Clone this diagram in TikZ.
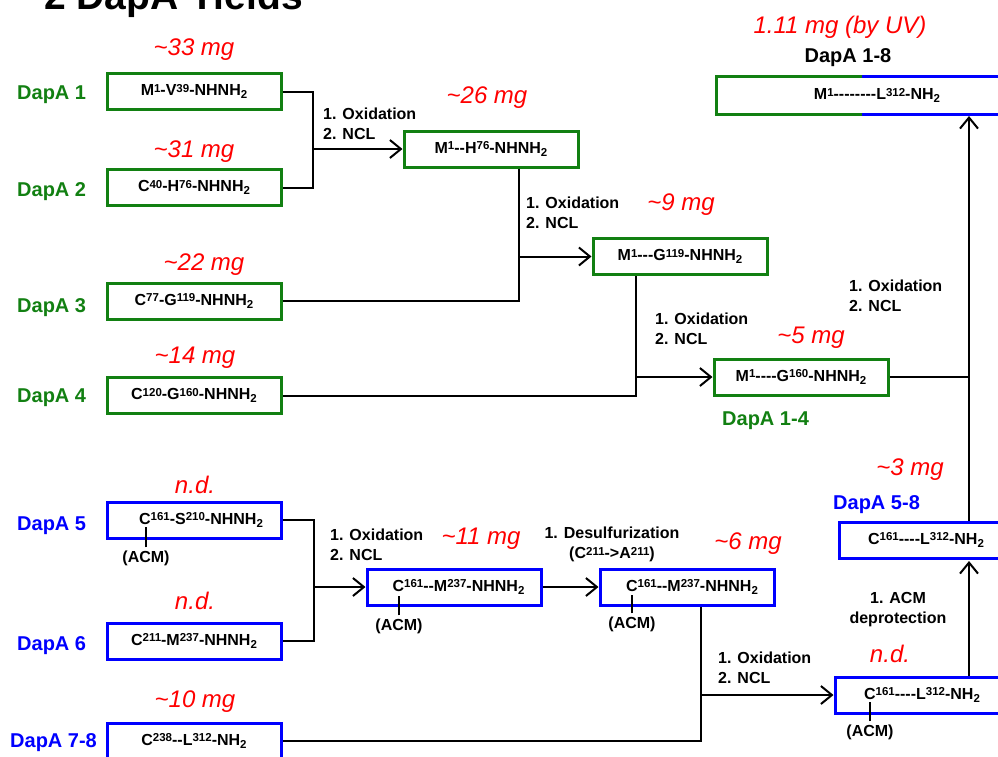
\documentclass[tikz,border=0pt]{standalone}
\usepackage{fontspec}
\setmainfont{Liberation Sans}
\usetikzlibrary{arrows.meta}
\definecolor{dg}{RGB}{18,128,18}
\definecolor{bl}{RGB}{0,0,255}
\newcommand\hh{\hbox{-}}
\newcommand\sps[1]{\raisebox{3.6pt}{\fontsize{11.5}{10}\selectfont #1}}
\newcommand\sbs[1]{\raisebox{-2.7pt}{\fontsize{11.5}{10}\selectfont #1}}
\begin{document}
\begin{tikzpicture}[x=1pt,y=-1pt,
  box/.style={line width=3pt, minimum width=174pt, minimum height=36pt, inner sep=0pt, font=\bfseries\fontsize{16}{18}\selectfont},
  gbox/.style={box, draw=dg},
  bbox/.style={box, draw=bl},
  lab/.style={font=\bfseries\fontsize{20}{24}\selectfont, anchor=base west, inner sep=0pt},
  yld/.style={text=red, font=\itshape\fontsize{24}{28}\selectfont, anchor=base, inner sep=0pt},
  stp/.style={font=\bfseries\fontsize{16}{20}\selectfont, align=left, anchor=north west, inner sep=0pt},
  conn/.style={line width=2pt},
  arr/.style={conn, -{Straight Barb[length=11pt,width=18pt]}},
  acm/.style={font=\bfseries\fontsize{16}{18}\selectfont, inner sep=0pt},
  tick/.style={line width=2pt}]
\clip (0,0) rectangle (998,756);
% title (cut off at top)
\node[font=\bfseries\fontsize{39}{44}\selectfont, anchor=base west, inner sep=0pt] (title) at (44,9) {2 DapA Yields};
% ---------- DapA 1-4 ----------
\node[lab, text=dg] (l1) at (17,99) {DapA 1};
\node[lab, text=dg] (l2) at (17,196) {DapA 2};
\node[lab, text=dg] (l3) at (17,312) {DapA 3};
\node[lab, text=dg] (l4) at (17,402) {DapA 4};
\node[gbox] (d1) at (194,91.5) {M\sps{1}-V\sps{39}-NHNH\sbs{2}};
\node[gbox] (d2) at (194,187.5) {C\sps{40}-H\sps{76}-NHNH\sbs{2}};
\node[gbox] (d3) at (194,301) {C\sps{77}-G\sps{119}-NHNH\sbs{2}};
\node[gbox] (d4) at (194,395.5) {C\sps{120}-G\sps{160}-NHNH\sbs{2}};
\node[yld] (y1) at (194,55) {\textasciitilde33 mg};
\node[yld] (y2) at (194,157) {\textasciitilde31 mg};
\node[yld] (y3) at (204,270) {\textasciitilde22 mg};
\node[yld] (y4) at (195,363) {\textasciitilde14 mg};
\node[gbox] (n12) at (491,149) {M\sps{1}\hh\hh H\sps{76}-NHNH\sbs{2}};
\node[gbox] (n123) at (680,256.5) {M\sps{1}\hh\hh\hh G\sps{119}-NHNH\sbs{2}};
\node[gbox] (n14) at (801,377) {M\sps{1}\hh\hh\hh\hh G\sps{160}-NHNH\sbs{2}};
\node[yld] (y12) at (487,103) {\textasciitilde26 mg};
\node[yld] (y123) at (681,210) {\textasciitilde9 mg};
\node[yld] (y14) at (811,343) {\textasciitilde5 mg};
\node[lab, text=dg] (l14) at (722,425) {DapA 1-4};
\node[stp] (s1) at (323,108) {1. Oxidation\\2. NCL};
\node[stp] (s2) at (526,197) {1. Oxidation\\2. NCL};
\node[stp] (s3) at (655,313) {1. Oxidation\\2. NCL};
\node[stp] (s4) at (849,280) {1. Oxidation\\2. NCL};
% ---------- final product ----------
\node[box, minimum width=318pt, minimum height=35pt] (top) at (877,95.5) {M\sps{1}\hh\hh\hh\hh\hh\hh\hh\hh L\sps{312}-NH\sbs{2}};
\draw[dg, line width=3pt] (862,0 |- top.north) -- (top.north west) -- (top.south west) -- (862,0 |- top.south);
\draw[bl, line width=3pt] (862,0 |- top.north) -- (top.north east) -- (top.south east) -- (862,0 |- top.south);
\node[yld] (ytop) at (840,33) {1.11 mg (by UV)};
\node[font=\bfseries\fontsize{20}{24}\selectfont, anchor=base, inner sep=0pt] (ltop) at (848,62) {DapA 1-8};
% ---------- DapA 5-8 ----------
\node[lab, text=bl] (l5) at (17,530) {DapA 5};
\node[lab, text=bl] (l6) at (17,650) {DapA 6};
\node[lab, text=bl] (l78) at (10,747) {DapA 7-8};
\node[bbox] (d5) at (194,520) {\hspace*{14pt}C\sps{161}-S\sps{210}-NHNH\sbs{2}};
\node[bbox] (d6) at (194,641) {C\sps{211}-M\sps{237}-NHNH\sbs{2}};
\node[bbox] (d78) at (194,741) {C\sps{238}\hh\hh L\sps{312}-NH\sbs{2}};
\node[yld] (y5) at (195,493) {n.d.};
\node[yld] (y6) at (195,609) {n.d.};
\node[yld] (y78) at (195,707) {\textasciitilde10 mg};
\node[bbox] (n56) at (454,587) {\hspace*{9pt}C\sps{161}\hh\hh M\sps{237}-NHNH\sbs{2}};
\node[bbox] (n56b) at (687,587) {\hspace*{10pt}C\sps{161}\hh\hh M\sps{237}-NHNH\sbs{2}};
\node[bbox] (nacm) at (922,695) {C\sps{161}\hh\hh\hh\hh L\sps{312}-NH\sbs{2}};
\node[bbox] (n58) at (926,540) {C\sps{161}\hh\hh\hh\hh L\sps{312}-NH\sbs{2}};
\node[yld] (y56) at (481,544) {\textasciitilde11 mg};
\node[yld] (y56b) at (748,549) {\textasciitilde6 mg};
\node[yld] (yacm) at (890,662) {n.d.};
\node[yld] (y58) at (910,475) {\textasciitilde3 mg};
\node[lab, text=bl] (l58) at (833,509) {DapA 5-8};
\node[stp] (s5) at (330,529) {1. Oxidation\\2. NCL};
\node[stp, align=center, anchor=north] (s6) at (612,527) {1. Desulfurization\\(C\sps{211}->A\sps{211})};
\node[stp] (s7) at (718,652) {1. Oxidation\\2. NCL};
\node[stp, align=center, anchor=north] (s8) at (898,592) {1. ACM\\deprotection};
% ACM side chains
\node[acm] (a5) at (146,558) {(ACM)};
\draw[tick] ([yshift=3pt]a5.north) -- ++(0,-20);
\node[acm] (a56) at (399,626) {(ACM)};
\draw[tick] ([yshift=3pt]a56.north) -- ++(0,-19);
\node[acm] (a56b) at (632,624) {(ACM)};
\draw[tick] ([yshift=3pt]a56b.north) -- ++(0,-18);
\node[acm] (aacm) at (870,732) {(ACM)};
\draw[tick] ([yshift=3pt]aacm.north) -- ++(0,-19);
% ---------- connectors ----------
\coordinate (j1) at (313,149);
\draw[conn] (d1.east) -| (j1) |- (d2.east);
\draw[arr] (j1) -- (n12.west);
\coordinate (j2) at (519,256.5);
\draw[conn] (j2 |- n12.south) -- (j2) |- (d3.east);
\draw[arr] (j2) -- (n123.west);
\coordinate (j3) at (636,377);
\draw[conn] (j3 |- n123.south) -- (j3) |- (d4.east);
\draw[arr] (j3) -- (n14.west);
\coordinate (j4) at (969,377);
\draw[conn] (n14.east) -- (j4);
\draw[arr] (j4 |- n58.north) -- ([yshift=-1.5pt]j4 |- top.south);
\coordinate (j5) at (314,587);
\draw[conn] (d5.east) -| (j5) |- (d6.east);
\draw[arr] (j5) -- (n56.west);
\draw[arr] (n56.east) -- (n56b.west);
\coordinate (j7) at (701,695);
\draw[conn] (j7 |- n56b.south) -- (j7) |- (d78.east);
\draw[arr] (j7) -- (nacm.west);
\draw[arr] (j4 |- nacm.north) -- ([yshift=-1.5pt]j4 |- n58.south);
\end{tikzpicture}
\end{document}
